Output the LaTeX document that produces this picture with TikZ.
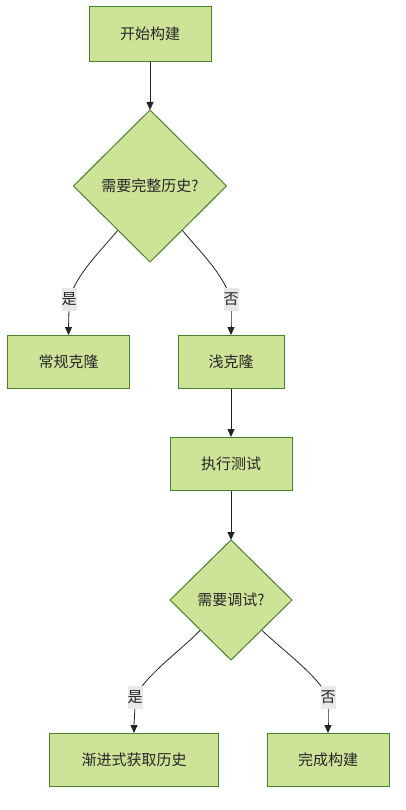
\documentclass[tikz,border=0pt]{standalone}
\usepackage{fontspec}
\setmainfont{Noto Sans CJK SC}
\usetikzlibrary{shapes.geometric,arrows.meta,calc,backgrounds}
\definecolor{nfill}{HTML}{CDE498}
\definecolor{nline}{HTML}{4A7F2E}
\definecolor{lfill}{HTML}{E8E8E8}
\definecolor{eline}{HTML}{222222}
\tikzset{
  txt/.style={font=\fontsize{15bp}{18bp}\selectfont, text=black!85},
  box/.style={txt, rectangle, draw=nline, line width=1bp, fill=nfill, minimum height=53bp, inner sep=0pt, outer sep=0pt},
  dia/.style={txt, diamond, draw=nline, line width=1bp, fill=nfill, inner sep=0pt, outer sep=0pt},
  lab/.style={txt, fill=lfill, minimum width=15bp, minimum height=23bp, inner sep=0pt},
  edge/.style={draw=eline, line width=0.8bp},
  arr/.style={edge, -{Triangle[length=8bp,width=7bp]}}
}
\begin{document}
\begin{tikzpicture}[x=1bp,y=-1bp]
\useasboundingbox (0,0) rectangle (405,810);
\node[box, minimum width=122bp, minimum height=54bp] (start) at (150,34) {开始构建};
\node[dia, minimum width=153bp, minimum height=152bp] (d1) at (150,186) {需要完整历史?};
\node[box, minimum width=121bp] (full) at (68.5,361.5) {常规克隆};
\node[box, minimum width=106bp] (shallow) at (231,361.5) {浅克隆};
\node[box, minimum width=122bp] (test) at (231,463.5) {执行测试};
\node[dia, minimum width=122bp, minimum height=120bp] (d2) at (231,600) {需要调试?};
\node[box, minimum width=168bp] (inc) at (134,759.5) {渐进式获取历史};
\node[box, minimum width=122bp] (done) at (328,759.5) {完成构建};

\node[lab] (l1) at (69,299) {是};
\node[lab] (l2) at (231,299) {否};
\node[lab] (l3) at (135,697) {是};
\node[lab] (l4) at (328,697) {否};

\begin{scope}[on background layer]
\draw[arr] (start.south) -- (d1.north);
\draw[edge] ($(d1.west)!0.58!(d1.south)$) .. controls (100,252) and (78,272) .. (l1.center);
\draw[arr] (l1.center) .. controls (69,320) and (68.5,325) .. (full.north);
\draw[edge] ($(d1.east)!0.58!(d1.south)$) .. controls (200,252) and (222,272) .. (l2.center);
\draw[arr] (l2.center) .. controls (231,320) and (231,325) .. (shallow.north);
\draw[arr] (shallow.south) -- (test.north);
\draw[arr] (test.south) -- (d2.north);
\draw[edge] (d2.south west) .. controls (180,651) and (146,675) .. (l3.center);
\draw[arr] (l3.center) .. controls (135,715) and (134,722) .. (inc.north);
\draw[edge] (d2.south east) .. controls (285,652) and (318,676) .. (l4.center);
\draw[arr] (l4.center) .. controls (328,715) and (328,722) .. (done.north);
\end{scope}
\end{tikzpicture}
\end{document}
